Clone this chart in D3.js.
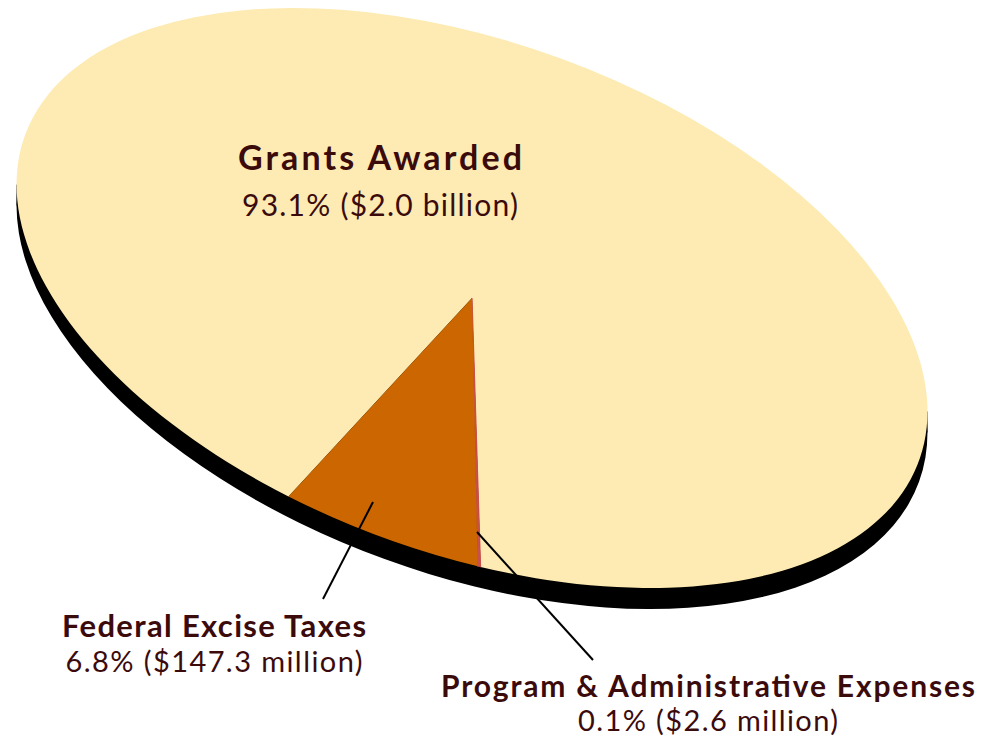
<!DOCTYPE html>
<html>
<head>
<meta charset="utf-8">
<script src="https://cdn.jsdelivr.net/npm/d3@7"></script>
<style>
  html, body { margin: 0; padding: 0; background: #ffffff; }
  svg { display: block; }
  text { font-family: Lato, "Noto Sans", sans-serif; fill: #3b0b0b; }
</style>
</head>
<body>
<script>
// ---- data ----
const categories = ["Grants Awarded", "Program & Administrative Expenses", "Federal Excise Taxes"];
const percentages = [93.1, 0.1, 6.8];
const amountLabels = ["93.1% ($2.0 billion)", "0.1% ($2.6 million)", "6.8% ($147.3 million)"];
const sliceColors = ["#fdebb3", "#c9504a", "#cc6600"];

(function () {
// ---- layout ----
const W = 987, H = 742;
const cx = 472, cy = 298;          // centre of top face
const ra = 475.7, rb = 255.5;      // ellipse semi-axes
const tilt = 20;                   // degrees
const depth = 21;                  // extrusion depth (px, downward)
const R = 100;                     // arc radius in local space

const svg = d3.select("body").append("svg").attr("width", W).attr("height", H);

// side (black) = hull of top ellipse and shifted ellipse
const th = tilt * Math.PI / 180;
const c = Math.cos(th), s = Math.sin(th);
const halfW = Math.sqrt(ra * ra * c * c + rb * rb * s * s);
const yOff = (ra * ra - rb * rb) * s * c / halfW;
const side = svg.append("g");
side.append("ellipse")
  .attr("cx", 0).attr("cy", 0).attr("rx", ra).attr("ry", rb)
  .attr("transform", `translate(${cx},${cy + depth}) rotate(${tilt})`)
  .attr("fill", "#000");
side.append("polygon")
  .attr("points", [
    [cx - halfW, cy - yOff], [cx + halfW, cy + yOff],
    [cx + halfW, cy + yOff + depth], [cx - halfW, cy - yOff + depth]
  ].map(p => p.join(",")).join(" "))
  .attr("fill", "#000");

// top face pie
const startDeg = 192.7;
const pie = d3.pie().sort(null).value(d => d)
  .startAngle(startDeg * Math.PI / 180)
  .endAngle((startDeg + 360) * Math.PI / 180);
const arc = d3.arc().innerRadius(0).outerRadius(R);
const face = svg.append("g")
  .attr("transform", `translate(${cx},${cy}) rotate(${tilt}) scale(${ra / R},${rb / R})`);
face.selectAll("path").data(pie(percentages)).join("path")
  .attr("d", arc)
  .attr("fill", (d, i) => sliceColors[i])
  .attr("stroke", (d, i) => i === 1 ? sliceColors[i] : "none")
  .attr("stroke-width", 0.25);

// leader lines
const leaders = [
  [[477, 532], [593, 660]],
  [[373, 502], [323, 599]]
];
svg.selectAll("line.leader").data(leaders).join("line")
  .attr("class", "leader")
  .attr("x1", d => d[0][0]).attr("y1", d => d[0][1])
  .attr("x2", d => d[1][0]).attr("y2", d => d[1][1])
  .attr("stroke", "#000").attr("stroke-width", 2);

// labels
const labelPos = [
  { x: 380, y1: 170, y2: 216, f1: 34, f2: 30, w1: 284, w2: 276 },
  { x: 708, y1: 697, y2: 731, f1: 30, f2: 29, w1: 534, w2: 260 },
  { x: 214, y1: 637, y2: 672, f1: 31, f2: 29, w1: 304, w2: 297 }
];
categories.forEach((name, i) => {
  const p = labelPos[i];
  svg.append("text").attr("x", p.x).attr("y", p.y1)
    .attr("text-anchor", "middle").attr("font-weight", "bold")
    .attr("font-size", p.f1)
    .attr("textLength", p.w1).attr("lengthAdjust", "spacing")
    .text(name);
  svg.append("text").attr("x", p.x).attr("y", p.y2)
    .attr("text-anchor", "middle").attr("font-size", p.f2)
    .attr("textLength", p.w2).attr("lengthAdjust", "spacing")
    .text(amountLabels[i]);
});
})();
</script>
</body>
</html>
